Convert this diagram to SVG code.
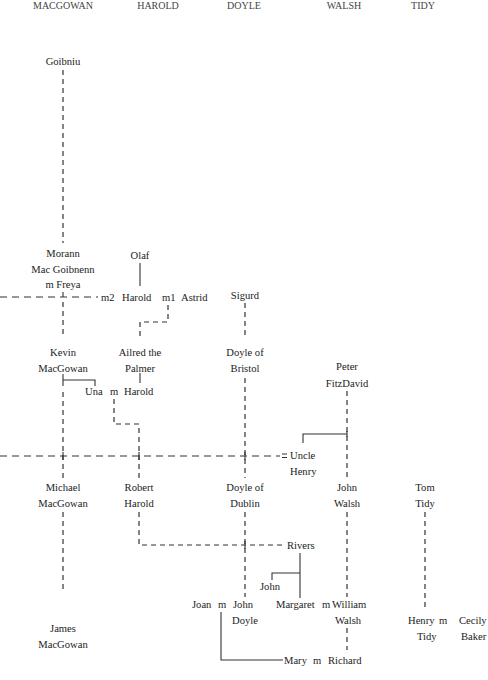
<svg xmlns="http://www.w3.org/2000/svg" width="488" height="680" viewBox="0 0 488 680">
<style>
text{font-family:"Liberation Serif","DejaVu Serif",serif;font-size:10.6px;fill:#222}
.c{text-anchor:middle}
.h{font-size:10px;fill:#444}
.d{fill:none;stroke:#333;stroke-width:1.2;stroke-dasharray:5 4}
.dh{fill:none;stroke:#333;stroke-width:1.2;stroke-dasharray:7 5}
.s{fill:none;stroke:#333;stroke-width:1.1}
</style>
<rect width="488" height="680" fill="#fff"/>
<g id="headers">
<text class="h c" x="63" y="9">MACGOWAN</text>
<text class="h c" x="158" y="9">HAROLD</text>
<text class="h c" x="244" y="9">DOYLE</text>
<text class="h c" x="344" y="9">WALSH</text>
<text class="h c" x="423" y="9">TIDY</text>
</g>
<g id="connectors">
<path class="d" d="M63 70V243"/>
<path class="dh" d="M0 297H98"/>
<path class="s" d="M63 292V297"/>
<path class="d" d="M63 302V338"/>
<path class="s" d="M140 263V286"/>
<path class="d" d="M168 305V322H140V338"/>
<path class="s" d="M140 373V383"/>
<path class="d" d="M245 303V336"/>
<path class="d" d="M245 378V478"/>
<path class="s" d="M63 374V386M63 380H95V386"/>
<path class="d" d="M63 392V478"/>
<path class="d" d="M114 399V424H139V478"/>
<path class="dh" d="M0 456H280"/>
<path class="s" d="M63 452V460M139 452V460M245 452V460"/>
<path class="s" d="M282 454H287M282 457.5H287"/>
<path class="d" d="M347 391V478"/>
<path class="s" d="M303 443V434H347M347 431V437"/>
<path class="d" d="M63 512V592"/>
<path class="d" d="M139 512V545H282"/>
<path class="s" d="M245 541V549"/>
<path class="d" d="M245 512V597"/>
<path class="s" d="M300 553V598M300 573H272V580"/>
<path class="d" d="M347 512V597"/>
<path class="d" d="M425 512V608"/>
<path class="d" d="M347 628V650"/>
<path class="s" d="M221 612V660H283"/>
</g>
<g id="goibniu"><text class="c" x="63" y="65">Goibniu</text></g>
<g id="morann"><text class="c" x="63" y="257">Morann</text><text class="c" x="63" y="273">Mac Goibnenn</text><text class="c" x="63" y="288">m Freya</text></g>
<g id="olaf"><text class="c" x="140" y="259">Olaf</text></g>
<g id="harold-astrid"><text x="101" y="301">m2</text><text x="122" y="301">Harold</text><text x="162" y="301">m1</text><text x="181" y="301">Astrid</text></g>
<g id="sigurd"><text class="c" x="245" y="299">Sigurd</text></g>
<g id="kevin"><text class="c" x="63" y="356">Kevin</text><text class="c" x="63" y="372">MacGowan</text></g>
<g id="ailred"><text class="c" x="140" y="356">Ailred the</text><text class="c" x="140" y="372">Palmer</text></g>
<g id="una-harold"><text x="85" y="395">Una</text><text x="110" y="395">m</text><text x="124" y="395">Harold</text></g>
<g id="doyle-bristol"><text class="c" x="245" y="356">Doyle of</text><text class="c" x="245" y="372">Bristol</text></g>
<g id="peter"><text class="c" x="347" y="370">Peter</text><text class="c" x="347" y="387">FitzDavid</text></g>
<g id="uncle-henry"><text x="290" y="459">Uncle</text><text x="290" y="475">Henry</text></g>
<g id="michael"><text class="c" x="63" y="491">Michael</text><text class="c" x="63" y="507">MacGowan</text></g>
<g id="robert"><text class="c" x="139" y="491">Robert</text><text class="c" x="139" y="507">Harold</text></g>
<g id="doyle-dublin"><text class="c" x="245" y="491">Doyle of</text><text class="c" x="245" y="507">Dublin</text></g>
<g id="john-walsh"><text class="c" x="347" y="491">John</text><text class="c" x="347" y="507">Walsh</text></g>
<g id="tom-tidy"><text class="c" x="425" y="491">Tom</text><text class="c" x="425" y="507">Tidy</text></g>
<g id="rivers"><text x="287" y="549">Rivers</text></g>
<g id="john"><text x="260" y="590">John</text></g>
<g id="james"><text class="c" x="63" y="632">James</text><text class="c" x="63" y="648">MacGowan</text></g>
<g id="joan-john"><text x="192" y="608">Joan</text><text x="218" y="608">m</text><text x="233" y="608">John</text><text x="232" y="624">Doyle</text></g>
<g id="margaret-william"><text x="276" y="608">Margaret</text><text x="322" y="608">m</text><text x="332" y="608">William</text><text class="c" x="348" y="624">Walsh</text></g>
<g id="henry-cecily"><text x="408" y="624">Henry</text><text x="439" y="624">m</text><text x="459" y="624">Cecily</text><text x="417" y="640">Tidy</text><text x="461" y="640">Baker</text></g>
<g id="mary-richard"><text x="284" y="664">Mary</text><text x="313" y="664">m</text><text x="328" y="664">Richard</text></g>
</svg>
